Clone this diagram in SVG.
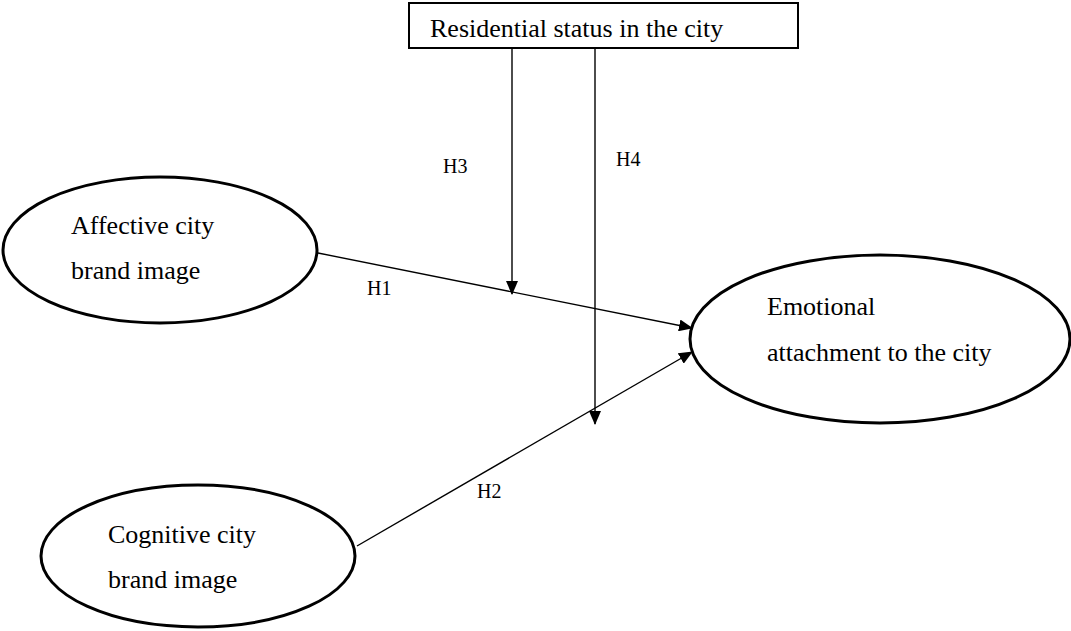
<svg xmlns="http://www.w3.org/2000/svg" width="1071" height="631" viewBox="0 0 1071 631">
  <style>
    .t { font-family: "Liberation Serif", "Times New Roman", serif; font-size: 26px; fill: #000; }
    .h { font-family: "Liberation Serif", "Times New Roman", serif; font-size: 20px; fill: #000; }
    .node { fill: #fff; stroke: #000; stroke-width: 3; }
    .box { fill: #fff; stroke: #000; stroke-width: 2; }
    .edge { stroke: #000; stroke-width: 1.4; fill: none; marker-end: url(#arr); }
  </style>
  <defs>
    <marker id="arr" markerWidth="14" markerHeight="12" refX="13" refY="6" orient="auto" markerUnits="userSpaceOnUse">
      <path d="M0,0 L14,6 L0,12 Z" fill="#000"/>
    </marker>
  </defs>
  <rect width="1071" height="631" fill="#fff"/>
  <g id="connectors">
    <line class="edge" x1="318" y1="253" x2="692" y2="328"/>
    <line class="edge" x1="357" y1="546" x2="692" y2="352"/>
    <line class="edge" x1="512" y1="48" x2="512" y2="294"/>
    <line class="edge" x1="595" y1="48" x2="595" y2="424"/>
    <text class="h" x="367" y="295">H1</text>
    <text class="h" x="477" y="498">H2</text>
    <text class="h" x="443" y="173">H3</text>
    <text class="h" x="616" y="166">H4</text>
  </g>
  <g id="residential">
    <rect class="box" x="409" y="3" width="389" height="45"/>
    <text class="t" x="430" y="37">Residential status in the city</text>
  </g>
  <g id="affective">
    <ellipse class="node" cx="160" cy="250" rx="157" ry="73"/>
    <text class="t" x="71" y="234">Affective city</text>
    <text class="t" x="71" y="279">brand image</text>
  </g>
  <g id="emotional">
    <ellipse class="node" cx="880" cy="339" rx="190" ry="84"/>
    <text class="t" x="767" y="315">Emotional</text>
    <text class="t" x="767" y="361">attachment to the city</text>
  </g>
  <g id="cognitive">
    <ellipse class="node" cx="198" cy="556" rx="157" ry="71"/>
    <text class="t" x="108" y="543">Cognitive city</text>
    <text class="t" x="108" y="588">brand image</text>
  </g>
</svg>
